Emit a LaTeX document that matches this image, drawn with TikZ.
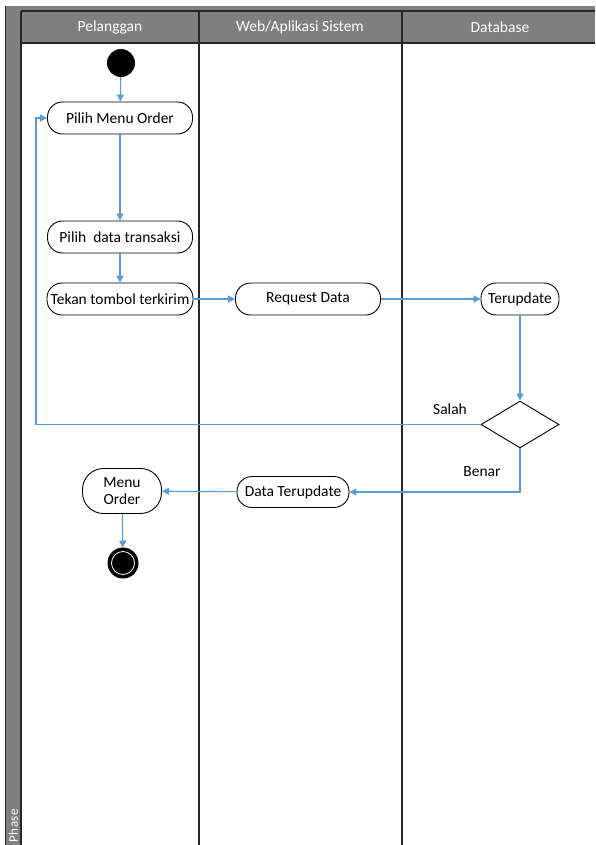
\documentclass[tikz,border=0pt]{standalone}
\usepackage{fontspec}
\setmainfont{Carlito}
\usepackage{xcolor}
\definecolor{lanegray}{HTML}{7F7F7F}
\definecolor{laneline}{HTML}{262626}
\definecolor{flowblue}{HTML}{5B9BD5}
\usetikzlibrary{arrows.meta, shapes.geometric, positioning, calc}

\begin{document}
\begin{tikzpicture}[x=1pt, y=-1pt, font=\fontsize{15.5}{17}\selectfont,
  act/.style={draw, line width=0.9pt, rounded corners=15pt, minimum height=32pt, inner sep=1pt},
  decide/.style={draw, line width=0.9pt, diamond, minimum width=78pt, minimum height=47pt, inner sep=0pt},
  startdot/.style={circle, fill=black, minimum size=28pt, inner sep=0pt},
  enddot/.style={circle, draw=black, line width=1pt, fill=black, minimum size=30pt, inner sep=0pt,
    path picture={\draw[white, line width=0.8pt] (path picture bounding box.center) circle (11.5pt);}},
  flow/.style={flowblue, line width=1.1pt, -{Triangle[length=7pt, width=7pt]}},
  lanehead/.style={white, font=\fontsize{15.5}{17}\selectfont}]
  \useasboundingbox (0,0) rectangle (595,845);

  \fill[lanegray] (5,6) rectangle (595,43);
  \fill[lanegray] (5,6) rectangle (21,845);
  \draw[laneline, line width=1pt] (5,6) -- (5,845);
  \draw[laneline, line width=1.2pt] (21,11) -- (595,11);
  \draw[laneline, line width=1.2pt] (21,43) -- (595,43);
  \draw[laneline, line width=1.4pt] (21,11) -- (21,845);
  \draw[laneline, line width=1.4pt] (199,11) -- (199,845);
  \draw[laneline, line width=1.4pt] (402,11) -- (402,845);

  \node[lanehead] (pelanggan) at (110,27) {Pelanggan};
  \node[lanehead] (sistem) at (300,27) {Web/Aplikasi Sistem};
  \node[lanehead] (database) at (500,27) {Database};
  \node[white, rotate=90, anchor=west, font=\fontsize{13}{14}\selectfont, inner sep=1pt] (phase) at (13.5,844) {P\kern1pt h\kern.5pt a\kern.5pt s\kern.5pt e};

  \node[startdot] (start) at (121,63) {};
  \node[act, minimum width=145pt] (menu) at (120,118) {Pilih Menu Order};
  \node[act, minimum width=145pt] (data) at (120,237) {Pilih~ data transaksi};
  \node[act, minimum width=146pt] (tekan) at (120,299) {Tekan tombol terkirim};
  \node[act, minimum width=145pt] (request) at (308,299) {Request Data};
  \node[act, minimum width=78pt] (terup) at (520,299) {Terupdate};
  \node[decide] (cek) at (520,424.5) {};
  \node (salah) at (450,409) {Salah};
  \node (benar) at (482,472) {Benar};
  \node[act, minimum width=112pt, minimum height=31pt] (dataup) at (293,492) {Data Terupdate};
  \node[act, minimum width=79pt, minimum height=45pt, rounded corners=21pt, align=center] (order) at (122,491) {Menu\\Order};
  \node[enddot] (end) at (123,563) {};

  \draw[flow] (start) -- (menu);
  \draw[flow] (menu) -- (data);
  \draw[flow] (data) -- (tekan);
  \draw[flow] (tekan) -- (request);
  \draw[flow] (request) -- (terup);
  \draw[flow] (terup) -- (cek);
  \coordinate (balik) at (36,424.5);
  \draw[flow] (cek.west) -- (balik) |- (menu.west);
  \draw[flow] (cek.south) |- (dataup.east);
  \draw[flow] (dataup) -- (order);
  \draw[flow] (order) -- (end);
\end{tikzpicture}
\end{document}
